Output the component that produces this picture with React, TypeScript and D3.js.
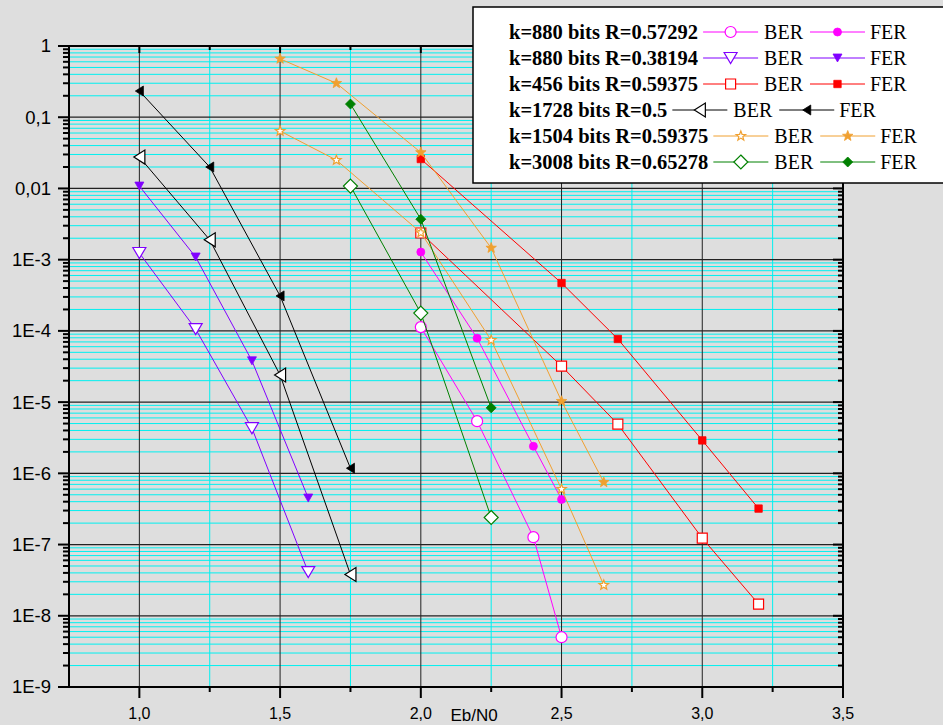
import React from 'react';
import * as d3 from 'd3';

const W = 943;
const H = 725;

const xDomain = [0.75, 3.5];
const yDomain = [1e-9, 1];
const xMajorTicks = [1.0, 1.5, 2.0, 2.5, 3.0, 3.5];
const xTickLabels = ['1,0', '1,5', '2,0', '2,5', '3,0', '3,5'];
const xMinorTicks = [1.25, 1.75, 2.25, 2.75, 3.25];
const yMajorTicks = [1, 1e-1, 1e-2, 1e-3, 1e-4, 1e-5, 1e-6, 1e-7, 1e-8, 1e-9];
const yTickLabels = ['1', '0,1', '0,01', '1E-3', '1E-4', '1E-5', '1E-6', '1E-7', '1E-8', '1E-9'];
const xAxisTitle = 'Eb/N0';

// k=880 bits R=0.57292
const s1Eb = [2.0, 2.2, 2.4, 2.5];
const s1Ber = [1.13e-4, 5.4e-6, 1.27e-7, 5e-9];
const s1Fer = [1.28e-3, 7.9e-5, 2.4e-6, 4.3e-7];
// k=880 bits R=0.38194
const s2Eb = [1.0, 1.2, 1.4, 1.6];
const s2Ber = [1.24e-3, 1.06e-4, 4.3e-6, 4.1e-8];
const s2Fer = [0.0108, 1.09e-3, 3.8e-5, 4.5e-7];
// k=456 bits R=0.59375
const s3Eb = [2.0, 2.5, 2.7, 3.0, 3.2];
const s3Ber = [2.37e-3, 3.2e-5, 4.9e-6, 1.23e-7, 1.46e-8];
const s3Fer = [0.0259, 4.7e-4, 7.7e-5, 2.9e-6, 3.2e-7];
// k=1728 bits R=0.5
const s4Eb = [1.0, 1.25, 1.5, 1.75];
const s4Ber = [0.0276, 1.9e-3, 2.4e-5, 3.8e-8];
const s4Fer = [0.233, 0.02, 3.1e-4, 1.18e-6];
// k=1504 bits R=0.59375
const s5Eb = [1.5, 1.7, 2.0, 2.25, 2.5, 2.65];
const s5Ber = [0.064, 0.025, 2.4e-3, 7.4e-5, 6e-7, 2.7e-8];
const s5Fer = [0.66, 0.3, 0.032, 1.46e-3, 1.03e-5, 7.5e-7];
// k=3008 bits R=0.65278
const s6Eb = [1.75, 2.0, 2.25];
const s6Ber = [0.0108, 1.78e-4, 2.4e-7];
const s6Fer = [0.153, 3.7e-3, 8.3e-6];

const seriesNames = [
  'k=880 bits R=0.57292',
  'k=880 bits R=0.38194',
  'k=456 bits R=0.59375',
  'k=1728 bits R=0.5',
  'k=1504 bits R=0.59375',
  'k=3008 bits R=0.65278',
];
const seriesColors = ['#ff00ff', '#8000ff', '#ff0000', '#000000', '#f0a030', '#008000'];
const seriesShapes = ['circle', 'tdown', 'square', 'tleft', 'star', 'diamond'];
const seriesEb = [s1Eb, s2Eb, s3Eb, s4Eb, s5Eb, s6Eb];
const seriesBer = [s1Ber, s2Ber, s3Ber, s4Ber, s5Ber, s6Ber];
const seriesFer = [s1Fer, s2Fer, s3Fer, s4Fer, s5Fer, s6Fer];

const L = 69, R = 843, T = 46, B = 687;
const x = d3.scaleLinear().domain(xDomain).range([L, R]);
const y = d3.scaleLog().domain(yDomain).range([B, T]);

function markerPath(shape: string, filled: boolean): string {
  switch (shape) {
    case 'circle': {
      const r = filled ? 4 : 5.5;
      return `M${r},0A${r},${r} 0 1,1 ${-r},0A${r},${r} 0 1,1 ${r},0Z`;
    }
    case 'tdown': {
      const w = filled ? 4.5 : 6.5, h = filled ? 4 : 5.5;
      return `M${-w},${-h}L${w},${-h}L0,${h}Z`;
    }
    case 'tleft': {
      const w = filled ? 4 : 5.5, h = filled ? 5 : 7;
      return `M${w},${-h}L${w},${h}L${-w},0Z`;
    }
    case 'square': {
      const s = filled ? 3.7 : 5;
      return `M${-s},${-s}L${s},${-s}L${s},${s}L${-s},${s}Z`;
    }
    case 'diamond': {
      const s = filled ? 5 : 7;
      return `M0,${-s}L${s},0L0,${s}L${-s},0Z`;
    }
    case 'star': {
      const ro = filled ? 5.5 : 5, ri = ro * 0.42;
      const pts: string[] = [];
      for (let i = 0; i < 10; i++) {
        const a = -Math.PI / 2 + (i * Math.PI) / 5;
        const r = i % 2 === 0 ? ro : ri;
        pts.push(`${(r * Math.cos(a)).toFixed(2)},${(r * Math.sin(a)).toFixed(2)}`);
      }
      return 'M' + pts.join('L') + 'Z';
    }
  }
  return '';
}

function Marker({ cx, cy, shape, color, filled }: any) {
  return (
    <path
      d={markerPath(shape, filled)}
      transform={`translate(${cx},${cy})`}
      fill={filled ? color : '#ffffff'}
      stroke={color}
      strokeWidth={filled ? 0.8 : 1.2}
    />
  );
}

let measureCtx: CanvasRenderingContext2D | null = null;
function textWidth(t: string, font: string): number {
  if (!measureCtx) {
    const c = document.createElement('canvas');
    measureCtx = c.getContext('2d');
  }
  if (!measureCtx) return t.length * 10;
  measureCtx.font = font;
  return measureCtx.measureText(t).width;
}

export default function App() {
  const line = d3
    .line<[number, number]>()
    .x((d) => x(d[0]))
    .y((d) => y(d[1]));

  const minorY: number[] = [];
  for (let e = -9; e < 0; e++) {
    for (let m = 2; m <= 9; m++) minorY.push(m * Math.pow(10, e));
  }

  const legFontB = "bold 20.5px 'Liberation Serif'";
  const legFont = "20px 'Liberation Serif'";
  const legX = 509;
  const rowY0 = 32;
  const rowDy = 26;
  const serif = "'Liberation Serif', 'Times New Roman', serif";

  return (
    <svg
      width={W}
      height={H}
      style={{ position: 'absolute', left: 0, top: 0, display: 'block' }}
      fontFamily="'Liberation Sans', Arial, sans-serif"
    >
      <rect x={0} y={0} width={W} height={H} fill="#dedede" />
      {/* minor grid */}
      {minorY.map((v, i) => (
        <line key={'my' + i} x1={L} x2={R} y1={y(v)} y2={y(v)} stroke="#00f0f0" strokeWidth={1} />
      ))}
      {xMinorTicks.map((v, i) => (
        <line key={'mx' + i} x1={x(v)} x2={x(v)} y1={T} y2={B} stroke="#00f0f0" strokeWidth={1} />
      ))}
      {/* major grid */}
      {yMajorTicks.map((v, i) => (
        <line key={'Gy' + i} x1={L} x2={R} y1={y(v)} y2={y(v)} stroke="#222" strokeWidth={1.2} />
      ))}
      {xMajorTicks.map((v, i) => (
        <line key={'Gx' + i} x1={x(v)} x2={x(v)} y1={T} y2={B} stroke="#222" strokeWidth={1} />
      ))}
      {/* frame */}
      <rect x={L} y={T} width={R - L} height={B - T} fill="none" stroke="#000" strokeWidth={2} />
      {/* left & right ticks */}
      {yMajorTicks.map((v, i) => (
        <g key={'ty' + i}>
          <line x1={L - 11} x2={L} y1={y(v)} y2={y(v)} stroke="#000" strokeWidth={2} />
          <line x1={R - 10} x2={R} y1={y(v)} y2={y(v)} stroke="#000" strokeWidth={2} />
          <text x={51} y={y(v)} dy="0.35em" textAnchor="end" fontSize={18.5} fill="#000">
            {yTickLabels[i]}
          </text>
        </g>
      ))}
      {minorY.map((v, i) => (
        <g key={'tmy' + i}>
          <line x1={L - 6} x2={L} y1={y(v)} y2={y(v)} stroke="#000" strokeWidth={2} />
          <line x1={R - 5} x2={R} y1={y(v)} y2={y(v)} stroke="#000" strokeWidth={2} />
        </g>
      ))}
      {/* bottom & top ticks */}
      {xMajorTicks.map((v, i) => (
        <g key={'tx' + i}>
          <line x1={x(v)} x2={x(v)} y1={B} y2={B + 11} stroke="#000" strokeWidth={2} />
          <line x1={x(v)} x2={x(v)} y1={T} y2={T + 7} stroke="#000" strokeWidth={2} />
          <text x={x(v)} y={719} textAnchor="middle" fontSize={16} fill="#000">
            {xTickLabels[i]}
          </text>
        </g>
      ))}
      {xMinorTicks.map((v, i) => (
        <g key={'tmx' + i}>
          <line x1={x(v)} x2={x(v)} y1={B} y2={B + 5} stroke="#000" strokeWidth={2} />
          <line x1={x(v)} x2={x(v)} y1={T} y2={T + 4} stroke="#000" strokeWidth={2} />
        </g>
      ))}
      <text x={474} y={721} textAnchor="middle" fontSize={17} fill="#000">
        {xAxisTitle}
      </text>
      {/* data */}
      {seriesNames.map((name, si) => {
        const eb = seriesEb[si];
        const berPts = eb.map((e, i) => [e, seriesBer[si][i]] as [number, number]);
        const ferPts = eb.map((e, i) => [e, seriesFer[si][i]] as [number, number]);
        const c = seriesColors[si];
        return (
          <g key={'s' + si}>
            <path d={line(berPts) || ''} fill="none" stroke={c} strokeWidth={1} />
            <path d={line(ferPts) || ''} fill="none" stroke={c} strokeWidth={1} />
            {berPts.map((p, i) => (
              <Marker key={'b' + i} cx={x(p[0])} cy={y(p[1])} shape={seriesShapes[si]} color={c} filled={false} />
            ))}
            {ferPts.map((p, i) => (
              <Marker key={'f' + i} cx={x(p[0])} cy={y(p[1])} shape={seriesShapes[si]} color={c} filled={true} />
            ))}
          </g>
        );
      })}
      {/* legend */}
      <rect x={473} y={7} width={480} height={176} fill="#ffffff" stroke="#000" strokeWidth={1.5} />
      {seriesNames.map((name, si) => {
        const cy = rowY0 + si * rowDy;
        const tw = textWidth(name, legFontB);
        const x0 = legX + tw + 5;
        const berW = textWidth('BER', legFont);
        const c = seriesColors[si];
        const l1a = x0, l1b = x0 + 55;
        const bx = l1b + 6;
        const l2a = bx + berW + 7, l2b = l2a + 55;
        const fx = l2b + 5;
        return (
          <g key={'lg' + si}>
            <text x={legX} y={cy + 7} fontFamily={serif} fontWeight="bold" fontSize={20.5} fill="#000">
              {name}
            </text>
            <line x1={l1a} x2={l1b} y1={cy} y2={cy} stroke={c} strokeWidth={1} />
            <Marker cx={(l1a + l1b) / 2} cy={cy} shape={seriesShapes[si]} color={c} filled={false} />
            <text x={bx} y={cy + 7} fontFamily={serif} fontSize={20} fill="#000">
              BER
            </text>
            <line x1={l2a} x2={l2b} y1={cy} y2={cy} stroke={c} strokeWidth={1} />
            <Marker cx={(l2a + l2b) / 2} cy={cy} shape={seriesShapes[si]} color={c} filled={true} />
            <text x={fx} y={cy + 7} fontFamily={serif} fontSize={20} fill="#000">
              FER
            </text>
          </g>
        );
      })}
    </svg>
  );
}
